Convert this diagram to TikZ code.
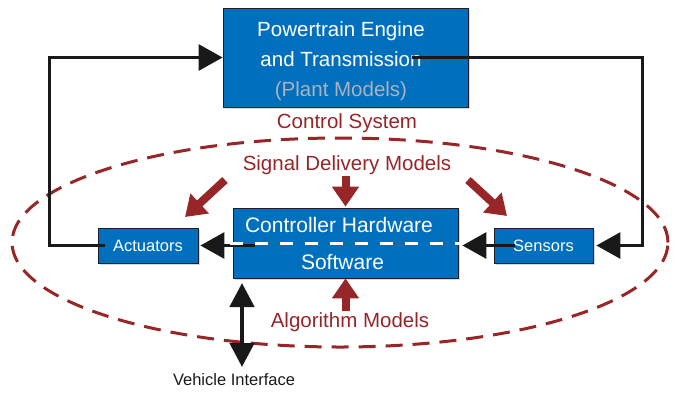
\documentclass[tikz,border=0pt]{standalone}
\usepackage{fontspec}
\setmainfont{Liberation Sans}
\usetikzlibrary{arrows.meta,shadows,calc}
\definecolor{boxblue}{RGB}{0,112,190}
\definecolor{dred}{RGB}{150,38,40}
\definecolor{plantgray}{RGB}{172,178,188}
\definecolor{edgedark}{RGB}{30,30,40}
\definecolor{lineblk}{RGB}{25,25,25}
\begin{document}
\begin{tikzpicture}[x=1pt,y=-1pt,
  box/.style={draw=edgedark, line width=0.8pt, fill=boxblue, text=white, inner sep=0pt,
    drop shadow={opacity=0.3, shadow xshift=1.5pt, shadow yshift=-2pt}},
  bigfont/.style={font=\fontsize{20.5}{30}\selectfont},
  ctrlfont/.style={font=\fontsize{21}{25}\selectfont},
  smallfont/.style={font=\fontsize{16.5}{20}\selectfont},
  redtext/.style={bigfont, text=dred, inner sep=1pt},
  blkarrow/.style={draw=lineblk, line width=3pt, -{Triangle[length=24pt,width=26pt]}},
  redarrow/.style={draw=dred, line width=8pt, -{Triangle[length=20pt,width=26pt]}},
  dualarrow/.style={draw=lineblk, line width=4.5pt, {Triangle[length=24pt,width=24pt]}-{Triangle[length=24pt,width=24pt]}}
]
\useasboundingbox (0,0) rectangle (675,392);

% control system boundary
\draw[dred, line width=3pt, dash pattern=on 17pt off 10pt] (340,242.5) ellipse [x radius=328pt, y radius=104.5pt];

% boxes
\node[box, minimum width=245pt, minimum height=99pt] (top) at (345.5,57.5) {};
\node[bigfont, text=white, align=center, inner sep=0pt] (toptext) at (341,61)
  {Powertrain Engine\\and Transmission\\{\color{plantgray}(Plant Models)}};
\node[box, minimum width=225pt, minimum height=70pt] (ctrl) at (345.5,243) {};
\node[ctrlfont, text=white, inner sep=0pt] (hw) at (339,225) {Controller Hardware};
\node[ctrlfont, text=white, inner sep=0pt] (sw) at (342.5,262) {Software};
\node[box, minimum width=100pt, minimum height=35pt, smallfont] (act) at (148,245.5) {Actuators};
\node[box, minimum width=99pt, minimum height=35pt, smallfont] (sen) at (543.5,245.5) {Sensors};

% labels
\node[redtext] (cs) at (347,123) {Control System};
\node[redtext] (sdm) at (347,165) {Signal Delivery Models};
\node[redtext] (alg) at (350,322) {Algorithm Models};
\node[smallfont, text=lineblk, inner sep=0pt] (vi) at (234,380) {Vehicle Interface};

% loop connectors
\draw[blkarrow] ([xshift=7pt]act.west) -- ++(-55,0) |- (top.west);
\draw[blkarrow] ([xshift=-56pt]top.east) -- (642,57.5) |- ([xshift=3pt]sen.east);
\draw[blkarrow] ([xshift=21pt]sen.west) -- ([xshift=4pt]ctrl.east |- sen.west);
\draw[blkarrow] ([xshift=22pt]ctrl.west |- act.east) -- ([xshift=2pt]act.east);

% white dashed separator
\draw[white, line width=3pt, dash pattern=on 13pt off 12pt] ([xshift=-3pt]ctrl.west) -- ([xshift=5pt]ctrl.east);

% signal delivery arrows
\coordinate (sdlA) at (225,180);
\coordinate (sdlB) at (185,217);
\coordinate (sdrA) at (468,180);
\coordinate (sdrB) at (507,216);
\draw[redarrow] (sdlA) -- (sdlB);
\draw[redarrow] (sdm.south -| ctrl.north) -- ([yshift=1pt]ctrl.north);
\draw[redarrow] (sdrA) -- (sdrB);

% algorithm arrow
\draw[redarrow] (alg.north -| ctrl.south) -- (ctrl.south);

% vehicle interface arrow
\coordinate (viTop) at (242,283);
\coordinate (viBot) at (242,367);
\draw[dualarrow] (viBot) -- (viTop);
\end{tikzpicture}
\end{document}
